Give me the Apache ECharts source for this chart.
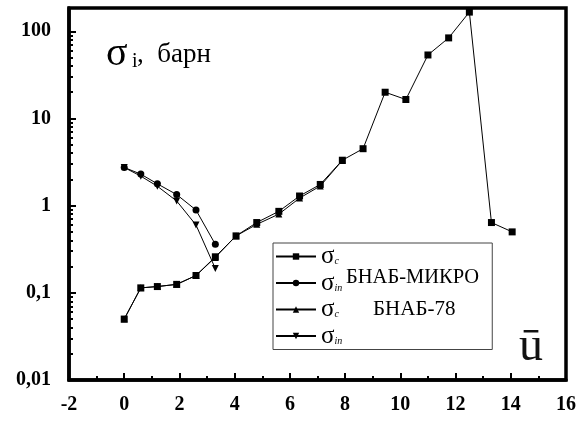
<!DOCTYPE html>
<html>
<head>
<meta charset="utf-8">
<script src="https://cdn.jsdelivr.net/npm/echarts@6/dist/echarts.min.js"></script>
<style>
 html,body{margin:0;padding:0;background:#fff;}
 #chart{width:583px;height:421px;}
</style>
</head>
<body>
<div id="chart"></div>
<script>
// energy, u
var xMikro = [0, 0.6, 1.2, 1.9, 2.6, 3.3, 4.05, 4.8, 5.6, 6.35, 7.1, 7.9, 8.65, 9.45, 10.2, 11.0, 11.75, 12.5, 13.3, 14.05];
// sigma_c, BNAB-MIKRO
var sigmaCMikro = [0.05, 0.114, 0.118, 0.125, 0.158, 0.259, 0.45, 0.64, 0.86, 1.29, 1.75, 3.32, 4.5, 20, 16.5, 53.5, 84, 166, 0.64, 0.5];
// sigma_in, BNAB-MIKRO
var xIn = [0, 0.6, 1.2, 1.9, 2.6, 3.3];
var sigmaInMikro = [2.74, 2.3, 1.78, 1.34, 0.89, 0.36];
// BNAB-78
var x78 = [0, 0.6, 1.2, 1.9, 2.6, 3.3, 4.05, 4.8, 5.6, 6.35, 7.1, 7.9];
var sigmaC78 = [0.05, 0.114, 0.118, 0.125, 0.158, 0.255, 0.45, 0.61, 0.8, 1.22, 1.68, 3.3];
var sigmaIn78 = [2.74, 2.18, 1.67, 1.13, 0.6, 0.19];

var yLabels = {0.01: '0,01', 0.1: '0,1', 1: '1', 10: '10', 100: '100'};

function pairs(xs, ys) {
  return ys.map(function (v, i) { return [xs[i], v]; });
}

var serif = '"Liberation Serif", "DejaVu Serif", serif';
var tri = 'path://M0,0 L10,0 L5,9 Z';

var chart = echarts.init(document.getElementById('chart'));

function lineSeries(name, data, symbol, size) {
  return {
    name: name,
    type: 'line',
    data: data,
    symbol: symbol,
    symbolSize: size,
    showAllSymbol: true,
    lineStyle: {color: '#000', width: 1},
    itemStyle: {color: '#000'},
    animation: false
  };
}

var option = {
  // the grid border gives the top and right edges of the frame
  grid: {left: 69, right: 17, top: 8, bottom: 41, show: true, borderColor: '#000', borderWidth: 3.5, backgroundColor: 'transparent'},
  xAxis: {
    type: 'value', min: -2, max: 16, interval: 2,
    axisLine: {show: true, onZero: false, lineStyle: {color: '#000', width: 3.5}},
    axisTick: {show: true, inside: true, length: 7, lineStyle: {color: '#000', width: 2}},
    minorTick: {show: true, splitNumber: 2, length: 4, lineStyle: {color: '#000', width: 2}},
    splitLine: {show: false},
    axisLabel: {color: '#000', fontFamily: serif, fontWeight: 'bold', fontSize: 20, margin: 15}
  },
  yAxis: {
    type: 'log', logBase: 10, min: 0.01, max: 185,
    axisLine: {show: true, onZero: false, lineStyle: {color: '#000', width: 3.5}},
    axisTick: {show: true, inside: true, length: 7, lineStyle: {color: '#000', width: 2}},
    minorTick: {show: true, splitNumber: 9, length: 4, lineStyle: {color: '#000', width: 2}},
    splitLine: {show: false},
    axisLabel: {
      color: '#000', fontFamily: serif, fontWeight: 'bold', fontSize: 20, margin: 18,
      formatter: function (v) {
        var k = Object.keys(yLabels).filter(function (t) { return Math.abs(Math.log10(+t) - Math.log10(v)) < 1e-6; });
        return k.length ? yLabels[k[0]] : '';
      }
    }
  },
  legend: {
    left: 273, top: 243,
    orient: 'vertical',
    itemWidth: 40, itemHeight: 8, itemGap: 1.5,
    padding: [1, 150, 1, 2],
    borderColor: '#444', borderWidth: 1,
    backgroundColor: '#fff',
    data: ['c1', 'in1', 'c2', 'in2'],
    formatter: function (n) {
      return '{s|σ}{sub|' + (n.indexOf('in') === 0 ? 'in' : 'c') + '}';
    },
    textStyle: {
      lineHeight: 20,
      rich: {
        s: {fontFamily: serif, fontSize: 25, color: '#000', lineHeight: 20, height: 20},
        sub: {fontFamily: serif, fontSize: 10, fontStyle: 'italic', color: '#000', lineHeight: 10, height: 10, padding: [10, 0, 0, 0], verticalAlign: 'bottom'}
      }
    }
  },
  graphic: [{
    type: 'text', left: 346, top: 267, z: 100,
    style: {text: 'БНАБ-МИКРО', font: '20.5px ' + serif, fill: '#000'}
  }, {
    type: 'text', left: 373, top: 299, z: 100,
    style: {text: 'БНАБ-78', font: '21px ' + serif, fill: '#000'}
  }, {
    type: 'text', left: 106, top: 34, z: 100,
    style: {text: 'σ', font: '40px ' + serif, fill: '#000'}
  }, {
    type: 'text', left: 132, top: 52, z: 100,
    style: {text: 'i', font: '20px ' + serif, fill: '#000'}
  }, {
    type: 'text', left: 137, top: 41, z: 100,
    style: {text: ',  барн', font: '27px ' + serif, fill: '#000'}
  }, {
    type: 'text', left: 519, top: 323, z: 100,
    style: {text: 'ū', font: '48px ' + serif, fill: '#111'}
  }],
  series: [
    lineSeries('in2', pairs(xIn, sigmaIn78), tri, 7),
    lineSeries('c2', pairs(x78, sigmaC78), 'triangle', 7),
    lineSeries('in1', pairs(xIn, sigmaInMikro), 'circle', 7),
    lineSeries('c1', pairs(xMikro, sigmaCMikro), 'rect', 7)
  ]
};
chart.setOption(option);
</script>
</body>
</html>
